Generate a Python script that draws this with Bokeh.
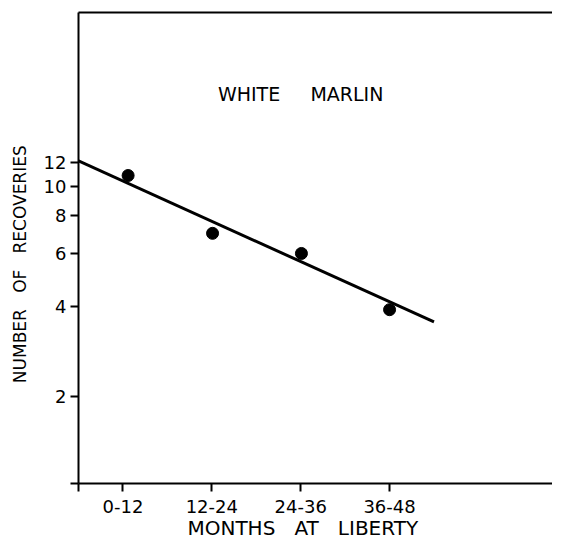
from bokeh.plotting import figure
from bokeh.models import FixedTicker, LinearAxis, Label, Range1d
from bokeh.embed import file_html
from bokeh.resources import INLINE

# data
months_mid = [6.7, 18.1, 30.1, 42.0]
recoveries = [10.9, 7.0, 6.0, 3.9]
fit_x = [0, 48]
fit_y = [12.2, 3.55]
Y_MIN = 1.03
x_ticks = [0, 6, 18, 30, 42]
x_tick_labels = ["", "0-12", "12-24", "24-36", "36-48"]
y_ticks = [Y_MIN, 2, 4, 6, 8, 10, 12]
y_tick_labels = ["", "2", "4", "6", "8", "10", "12"]

NB = "\u00a0"
title_text = "WHITE" + NB * 5 + "MARLIN"
# trailing no-break spaces shift the centred axis titles like the original
x_title = "MONTHS" + NB * 3 + "AT" + NB * 3 + "LIBERTY" + NB * 4
y_title = "NUMBER" + NB * 3 + "OF" + NB * 3 + "RECOVERIES" + NB * 6

FONT = "DejaVu Sans"

p = figure(width=552, height=543, y_axis_type="log",
           x_range=Range1d(0, 64), y_range=Range1d(Y_MIN, 38),
           output_backend="svg", toolbar_location=None,
           min_border_left=78, min_border_top=12, min_border_right=0, min_border_bottom=60)
p.grid.visible = False
p.outline_line_color = None
p.background_fill_color = "white"
p.border_fill_color = "white"

p.line(fit_x, fit_y, line_color="black", line_width=3)
p.scatter(months_mid, recoveries, size=12, color="black")

xa = p.xaxis[0]
xa.ticker = FixedTicker(ticks=x_ticks)
xa.major_label_overrides = {t: l for t, l in zip(x_ticks, x_tick_labels)}
xa.minor_tick_line_color = None
xa.major_tick_in = 0
xa.major_tick_out = 8
xa.axis_line_width = 2
xa.major_tick_line_width = 2
xa.major_label_text_font = FONT
xa.major_label_text_font_size = "18px"
xa.major_label_text_color = "black"
xa.major_label_standoff = 8
xa.axis_label = x_title
xa.axis_label_text_font = FONT
xa.axis_label_text_font_size = "20px"
xa.axis_label_text_font_style = "normal"
xa.axis_label_text_color = "black"
xa.axis_label_standoff = 0

ya = p.yaxis[0]
ya.ticker = FixedTicker(ticks=y_ticks, minor_ticks=[])
ya.major_label_overrides = {t: l for t, l in zip(y_ticks, y_tick_labels)}
ya.minor_tick_line_color = None
ya.major_tick_in = 0
ya.major_tick_out = 8
ya.axis_line_width = 2
ya.major_tick_line_width = 2
ya.major_label_text_font = FONT
ya.major_label_text_font_size = "18px"
ya.major_label_text_color = "black"
ya.major_label_standoff = 4
ya.axis_label = y_title
ya.axis_label_text_font = FONT
ya.axis_label_text_font_size = "17px"
ya.axis_label_text_font_style = "normal"
ya.axis_label_text_color = "black"
ya.axis_label_standoff = 11

top = LinearAxis(ticker=FixedTicker(ticks=[]), axis_line_width=2,
                 major_label_text_font_size="0px", minor_tick_line_color=None,
                 major_tick_line_color=None)
p.add_layout(top, "above")

p.add_layout(Label(x=30, y=20.3, text=title_text, text_align="center",
                   text_baseline="middle", text_font=FONT, text_font_size="19px",
                   text_color="black"))

open("out.html", "w").write(file_html(p, INLINE))
